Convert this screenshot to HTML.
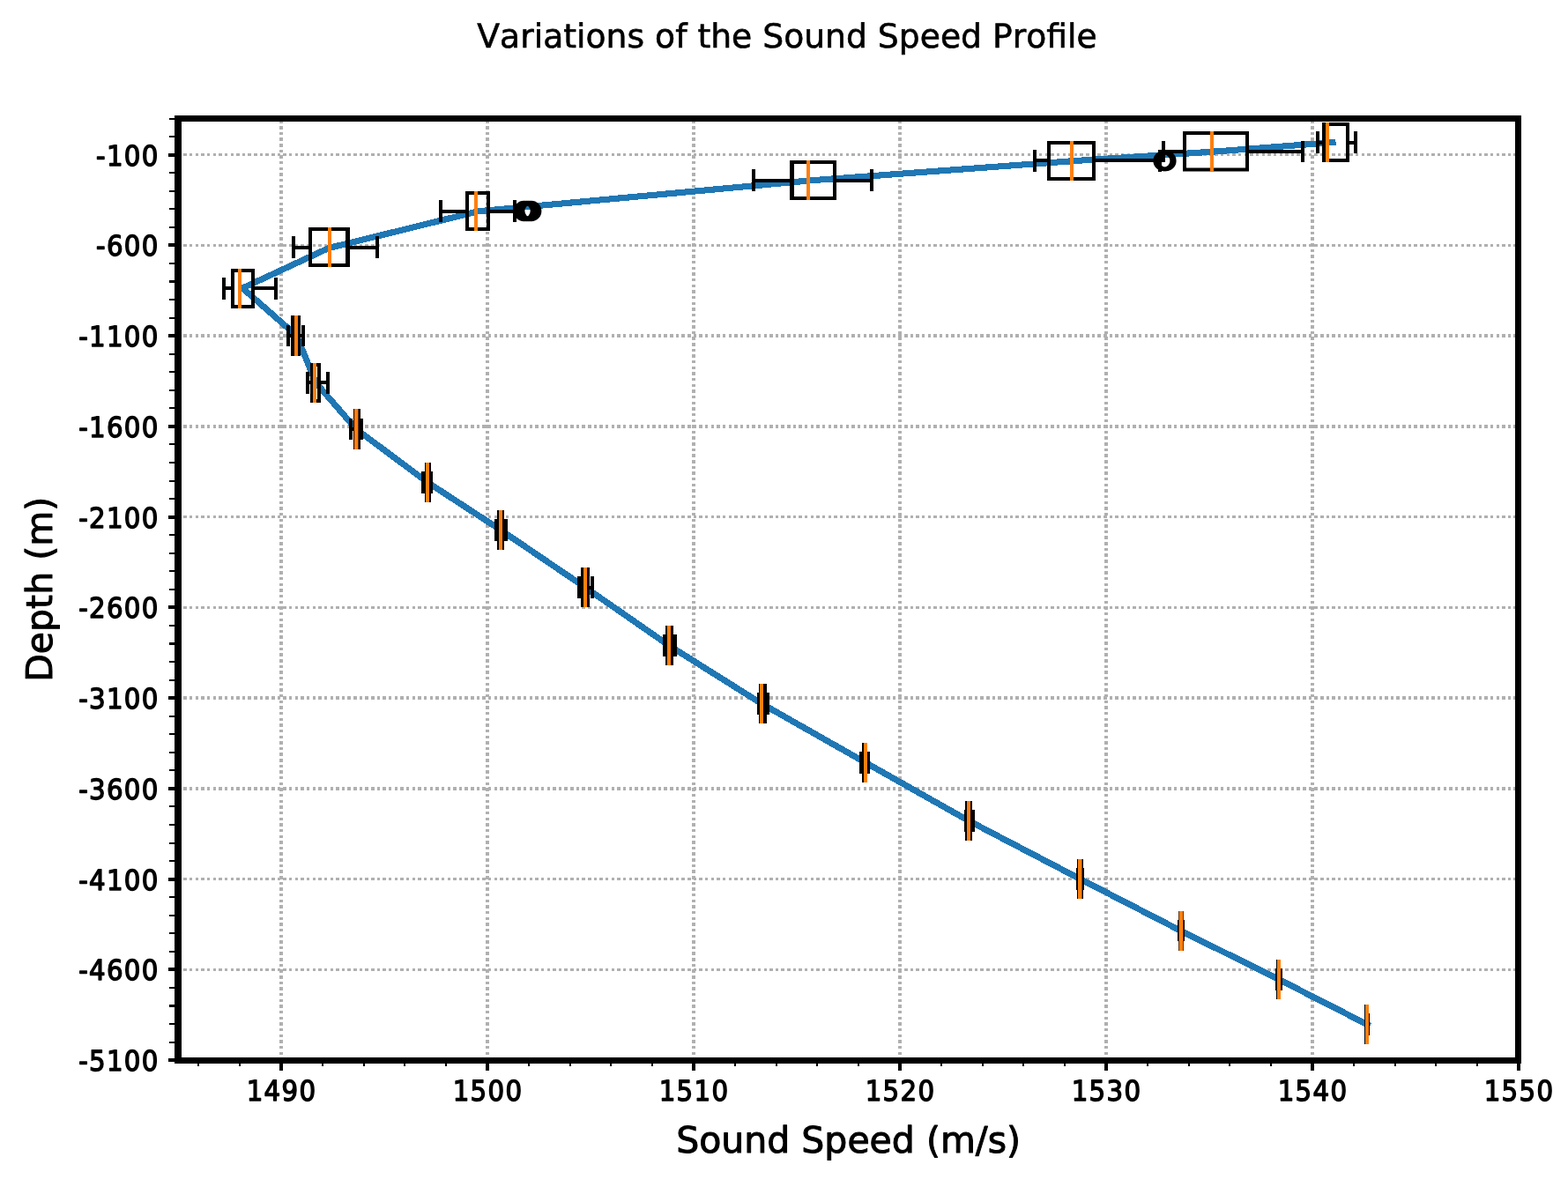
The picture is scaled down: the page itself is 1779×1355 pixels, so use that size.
<!DOCTYPE html>
<html lang="en"><head><meta charset="utf-8">
<title>Variations of the Sound Speed Profile</title>
<style>
html,body{margin:0;padding:0;background:#fff;}
body{width:1779px;height:1355px;overflow:hidden;}
svg{display:block;}
text{font-family:'DejaVu Sans','Liberation Sans',sans-serif;fill:#000;stroke:#000;stroke-linejoin:round;font-kerning:none;text-rendering:geometricPrecision;}
.tk{font-size:31.80px;stroke-width:1.4px;letter-spacing:1.4px;}
.lab{font-size:41.00px;stroke-width:1px;}
.tit{font-size:37.70px;stroke-width:0.6px;}
.gh line{stroke:#b0b0b0;stroke-width:3.33;stroke-dasharray:3.4500 3.1980;}
.gv line{stroke:#b0b0b0;stroke-width:3.33;stroke-dasharray:3.4500 3.1980;}
.bk{fill:#000;fill-rule:evenodd;}
.md{fill:#ff7f0e;}
.fl{fill:none;stroke:#000;stroke-width:4.4;}
</style></head><body>
<svg width="1779" height="1355" viewBox="0 0 1779 1355" role="img" aria-label="Variations of the Sound Speed Profile">
<rect x="0" y="0" width="1779" height="1355" fill="#ffffff"/>
<g class="gv" shape-rendering="crispEdges">
<line x1="319" y1="1203.6" x2="319" y2="136"/>
<line x1="553" y1="1203.6" x2="553" y2="136"/>
<line x1="787" y1="1203.6" x2="787" y2="136"/>
<line x1="1021" y1="1203.6" x2="1021" y2="136"/>
<line x1="1255" y1="1203.6" x2="1255" y2="136"/>
<line x1="1489" y1="1203.6" x2="1489" y2="136"/>
</g>
<g class="gh" shape-rendering="crispEdges">
<line x1="201.7" y1="175.65" x2="1721" y2="175.65"/>
<line x1="201.7" y1="278.4" x2="1721" y2="278.4"/>
<line x1="201.7" y1="381.15" x2="1721" y2="381.15"/>
<line x1="201.7" y1="483.9" x2="1721" y2="483.9"/>
<line x1="201.7" y1="586.65" x2="1721" y2="586.65"/>
<line x1="201.7" y1="689.4" x2="1721" y2="689.4"/>
<line x1="201.7" y1="792.15" x2="1721" y2="792.15"/>
<line x1="201.7" y1="894.9" x2="1721" y2="894.9"/>
<line x1="201.7" y1="997.65" x2="1721" y2="997.65"/>
<line x1="201.7" y1="1100.4" x2="1721" y2="1100.4"/>
</g>
<polyline points="1512,161.6 1384,171.6 1220,182.5 921.2,204.7 542.5,239.8 373,281.5 275.2,327 336.5,381 358.5,434.5 404.1,487 485,547.3 568.1,601.5 664,666.6 759,732.5 863.9,798.4 982.1,865.5 1099.1,931.5 1225.3,997.4 1339.9,1056.4 1450.85,1111.4 1551.2,1162.6" fill="none" stroke="#1f77b4" stroke-width="7.1" stroke-linejoin="round" stroke-linecap="square" shape-rendering="crispEdges"/>
<g>
<path class="bk" d="M1497 160H1500V164H1497ZM1531 160H1536V164H1531ZM1493 149H1497V174H1493ZM1536 149H1540V174H1536Z"/>
<path class="bk" d="M1500 139H1531V184H1500ZM1504 143H1527V180H1504Z"/>
<path class="md" d="M1504 139H1508V184H1504Z"/>
</g>
<g>
<path class="bk" d="M1322 170H1342V174H1322ZM1417 170H1476V174H1417ZM1318 160H1322V184H1318ZM1476 160H1480V184H1476Z"/>
<path class="bk" d="M1342 149H1417V194.6H1342ZM1346 153H1413V190.6H1346Z"/>
<path class="md" d="M1373 149H1377V194.6H1373Z"/>
</g>
<g>
<path class="bk" d="M1176 180H1188V184H1176ZM1243 180H1314V184H1243ZM1172 170H1176V195H1172ZM1314 170H1318V195H1314Z"/>
<path class="bk" d="M1188 160H1243V205H1188ZM1192 164H1239V201H1192Z"/>
<path class="md" d="M1214 160H1218V205H1214Z"/>
<circle class="fl" cx="1320.1" cy="182.6" r="9.5"/>
<circle class="fl" cx="1321.5" cy="182.6" r="9.5"/>
<circle class="fl" cx="1322.9" cy="182.6" r="9.5"/>
</g>
<g>
<path class="bk" d="M857 203H896V207H857ZM949 203H987V207H949ZM853 192H857V217H853ZM987 192H991V217H987Z"/>
<path class="bk" d="M896 182H949V227H896ZM901 186H945V223H901Z"/>
<path class="md" d="M915 182H919V227H915Z"/>
</g>
<g>
<path class="bk" d="M502 238H528V242H502ZM556 238H582V242H556ZM498 227H502V252H498ZM582 227H586V252H582Z"/>
<path class="bk" d="M528 217H556V262H528ZM532 221H552V258H532Z"/>
<path class="md" d="M538 217H542V262H538Z"/>
<circle class="fl" cx="594.4" cy="239.5" r="9.5"/>
<circle class="fl" cx="597.2" cy="239.5" r="9.5"/>
<circle class="fl" cx="599.9" cy="239.5" r="9.5"/>
<circle class="fl" cx="602.7" cy="239.5" r="9.5"/>
</g>
<g>
<path class="bk" d="M335 279H350V283H335ZM397 279H426V283H397ZM331 268H335V293H331ZM426 268H430V293H426Z"/>
<path class="bk" d="M350 258H397V303H350ZM354 262H392V299H354Z"/>
<path class="md" d="M372 258H376V303H372Z"/>
</g>
<g>
<path class="bk" d="M256 325H262V329H256ZM289 325H311V329H289ZM252 315H256V340H252ZM311 315H315V340H311Z"/>
<path class="bk" d="M262 305H289V350H262ZM266 309H285V346H266Z"/>
<path class="md" d="M270 305H274V350H270Z"/>
</g>
<g>
<path class="bk" d="M329 379H330V383H329ZM341 379H342V383H341ZM325 369H329V393H325ZM342 369H346V393H342Z"/>
<path class="bk" d="M330 358H341V404H330ZM334 362H337V400H334Z"/>
<path class="md" d="M334 358H338V404H334Z"/>
</g>
<g>
<path class="bk" d="M351 432H352V436H351ZM364 432H370V436H364ZM347 422H351V447H347ZM370 422H374V447H370Z"/>
<path class="bk" d="M352 412H364V457H352ZM355 416H360V453H355Z"/>
<path class="md" d="M355 412H359V457H355Z"/>
</g>
<g>
<path class="bk" d="M400 485H401V489H400ZM396 475H400V499H396ZM408.8 475H412V499H408.8Z"/>
<path class="bk" d="M401 464H409V510H401Z"/>
<path class="md" d="M402 464H406.4V510H402Z"/>
</g>
<g>
<path class="bk" d="M478 535H482V560H478ZM489 535H491V560H489Z"/>
<path class="bk" d="M482 525H489V570H482Z"/>
<path class="md" d="M483 525H487V570H483Z"/>
</g>
<g>
<path class="bk" d="M561 589H564V614H561ZM572 589H576V614H572Z"/>
<path class="bk" d="M564 579H572V624H564Z"/>
<path class="md" d="M566 579H570V624H566Z"/>
</g>
<g>
<path class="bk" d="M669 665H670V669H669ZM655 654H659V679H655ZM670 654H674V679H670Z"/>
<path class="bk" d="M659 644H669V689H659ZM663 648H665V685H663Z"/>
<path class="md" d="M662 644H666V689H662Z"/>
</g>
<g>
<path class="bk" d="M752 720H755V745H752ZM764 720H768V745H764Z"/>
<path class="bk" d="M755 710H764V755H755ZM759 714H760V751H759Z"/>
<path class="md" d="M757 710H761V755H757Z"/>
</g>
<g>
<path class="bk" d="M859 786H861V811H859ZM870 786H873V811H870Z"/>
<path class="bk" d="M861 776H870V821H861ZM865 780H866V817H865Z"/>
<path class="md" d="M862 776H866V821H862Z"/>
</g>
<g>
<path class="bk" d="M975 853H978V878H975ZM984 853H987V878H984Z"/>
<path class="bk" d="M978 843H984V888H978Z"/>
<path class="md" d="M980 843H984V888H980Z"/>
</g>
<g>
<path class="bk" d="M1094 919H1095V944H1094ZM1103 919H1106V944H1103Z"/>
<path class="bk" d="M1095 909H1103V954H1095Z"/>
<path class="md" d="M1097 909H1101V954H1097Z"/>
</g>
<g>
<path class="bk" d="M1221 985H1222V1010H1221ZM1229 985H1230V1010H1229Z"/>
<path class="bk" d="M1222 975H1229V1020H1222Z"/>
<path class="md" d="M1223 975H1227.5V1020H1223Z"/>
</g>
<g>
<path class="bk" d="M1336 1044H1337V1068H1336ZM1343 1044H1344V1068H1343Z"/>
<path class="bk" d="M1337 1034H1343V1079H1337Z"/>
<path class="md" d="M1337.6 1034H1342.4V1079H1337.6Z"/>
</g>
<g>
<path class="bk" d="M1447 1099H1448V1124H1447ZM1453 1099H1455V1124H1453Z"/>
<path class="bk" d="M1448 1089H1453V1134H1448Z"/>
<path class="md" d="M1449 1089H1453V1134H1449Z"/>
</g>
<g>
<path class="bk" d="M1548 1150H1549V1175H1548ZM1553 1150H1554V1175H1553Z"/>
<path class="bk" d="M1548 1140H1553V1185H1548Z"/>
<path class="md" d="M1549 1140H1553V1185H1549Z"/>
</g>
<g shape-rendering="crispEdges" stroke="#000" fill="none">
<path stroke-width="2.08" d="M225.4 1204V1210M272.2 1204V1210M365.8 1204V1210M412.6 1204V1210M459.4 1204V1210M506.2 1204V1210M599.8 1204V1210M646.6 1204V1210M693.4 1204V1210M740.2 1204V1210M833.8 1204V1210M880.6 1204V1210M927.4 1204V1210M974.2 1204V1210M1067.8 1204V1210M1114.6 1204V1210M1161.4 1204V1210M1208.2 1204V1210M1301.8 1204V1210M1348.6 1204V1210M1395.4 1204V1210M1442.2 1204V1210M1535.8 1204V1210M1582.6 1204V1210M1629.4 1204V1210M1676.2 1204V1210M192 134.55H202M192 155.1H202M192 196.2H202M192 216.75H202M192 237.3H202M192 257.85H202M192 298.95H202M192 319.5H202M192 340.05H202M192 360.6H202M192 401.7H202M192 422.25H202M192 442.8H202M192 463.35H202M192 504.45H202M192 525H202M192 545.55H202M192 566.1H202M192 607.2H202M192 627.75H202M192 648.3H202M192 668.85H202M192 709.95H202M192 730.5H202M192 751.05H202M192 771.6H202M192 812.7H202M192 833.25H202M192 853.8H202M192 874.35H202M192 915.45H202M192 936H202M192 956.55H202M192 977.1H202M192 1018.2H202M192 1038.75H202M192 1059.3H202M192 1079.85H202M192 1120.95H202M192 1141.5H202M192 1162.05H202M192 1182.6H202"/>
<path stroke-width="4.17" d="M319 1204V1215M553 1204V1215M787 1204V1215M1021 1204V1215M1255 1204V1215M1489 1204V1215M1723 1204V1215M191 175.65H202M191 278.4H202M191 381.15H202M191 483.9H202M191 586.65H202M191 689.4H202M191 792.15H202M191 894.9H202M191 997.65H202M191 1100.4H202M191 1203.15H202"/>
</g>
<path class="bk" d="M198 131H1726V1207H198ZM206 138H1719V1200H206Z"/>
<g class="tk" text-anchor="middle">
<text transform="translate(319.5 1249) scale(0.92 1)">1490</text>
<text transform="translate(553.5 1249) scale(0.92 1)">1500</text>
<text transform="translate(787.5 1249) scale(0.92 1)">1510</text>
<text transform="translate(1021.5 1249) scale(0.92 1)">1520</text>
<text transform="translate(1255.5 1249) scale(0.92 1)">1530</text>
<text transform="translate(1489.5 1249) scale(0.92 1)">1540</text>
<text transform="translate(1723.5 1249) scale(0.92 1)">1550</text>
</g>
<g class="tk" text-anchor="end">
<text transform="translate(180.6 187.65) scale(0.92 1)">-100</text>
<text transform="translate(180.6 290.4) scale(0.92 1)">-600</text>
<text transform="translate(180.6 393.15) scale(0.92 1)">-1100</text>
<text transform="translate(180.6 495.9) scale(0.92 1)">-1600</text>
<text transform="translate(180.6 598.65) scale(0.92 1)">-2100</text>
<text transform="translate(180.6 701.4) scale(0.92 1)">-2600</text>
<text transform="translate(180.6 804.15) scale(0.92 1)">-3100</text>
<text transform="translate(180.6 906.9) scale(0.92 1)">-3600</text>
<text transform="translate(180.6 1009.65) scale(0.92 1)">-4100</text>
<text transform="translate(180.6 1112.4) scale(0.92 1)">-4600</text>
<text transform="translate(180.6 1215.15) scale(0.92 1)">-5100</text>
</g>
<text class="lab" text-anchor="middle" x="962.6" y="1308.1">Sound Speed (m/s)</text>
<text class="lab" text-anchor="middle" transform="translate(58.6 668.8) rotate(-90)">Depth (m)</text>
<text class="tit" text-anchor="middle" x="893" y="54.1">Variations of the Sound Speed Profile</text>
</svg>
</body></html>
